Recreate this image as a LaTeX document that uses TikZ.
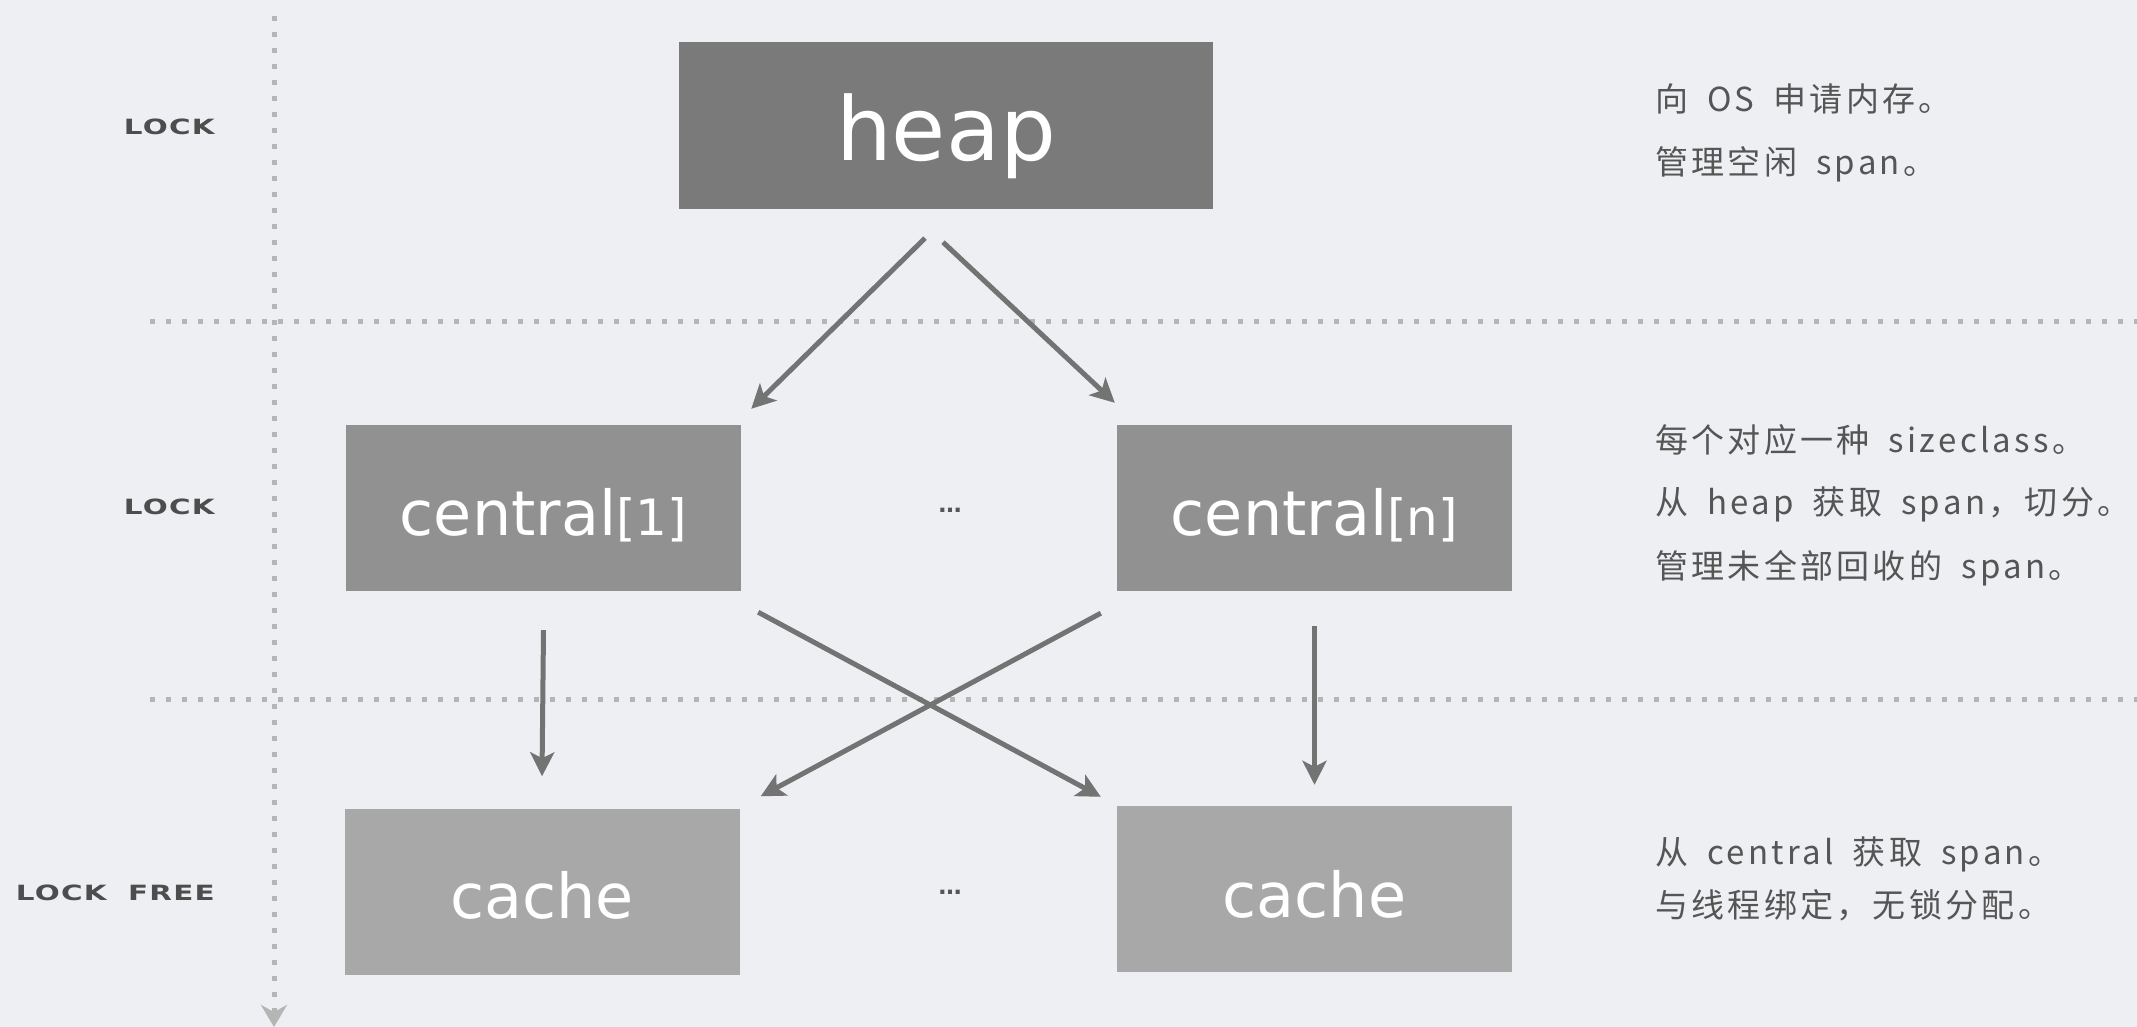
\documentclass[tikz,border=0pt]{standalone}
\usepackage{fontspec}
\usetikzlibrary{arrows.meta,calc}
\newfontfamily\boxfont{DejaVu Sans}
\newfontfamily\cjk[LetterSpace=10]{Noto Sans CJK SC}
\newfontfamily\lockfont[FakeStretch=1.4,LetterSpace=6,UprightFont=* Bold]{DejaVu Sans}
\definecolor{bg}{HTML}{EEEFF2}
\definecolor{heapc}{HTML}{7A7A7A}
\definecolor{centc}{HTML}{919191}
\definecolor{cachec}{HTML}{A8A8A8}
\definecolor{arrc}{HTML}{737373}
\definecolor{dotc}{HTML}{B5B5B5}
\definecolor{lblc}{HTML}{4D4D4D}
\definecolor{txtc}{HTML}{555555}
\newcommand{\mygap}{\hspace{19pt}}
\begin{document}
\begin{tikzpicture}[x=1pt,y=-1pt,
  box/.style={rectangle, inner sep=0pt, text=white, minimum width=395pt, minimum height=166pt},
  bigtext/.style={font={\boxfont\fontsize{88}{90}\selectfont}},
  midtext/.style={font={\boxfont\fontsize{62}{64}\selectfont}},
  arr/.style={line width=5pt, draw=arrc, -{Stealth[length=24pt,width=24pt,inset=6pt]}},
  dotline/.style={draw=dotc, line width=5pt, dash pattern=on 5pt off 11pt},
  lbl/.style={anchor=east, text=lblc, font={\lockfont\fontsize{21}{23}\selectfont}, inner sep=0pt},
  rtxt/.style={anchor=base west, text=txtc, font={\cjk\fontsize{33}{36}\selectfont}, inner sep=0pt},
  dots/.style={text=txtc, font={\boxfont\bfseries\fontsize{23}{25}\selectfont}, inner sep=0pt}
]
\path[fill=bg] (0,0) rectangle (2137,1027);
\useasboundingbox (0,0) rectangle (2137,1027);

% dotted guide lines
\coordinate (h1a) at (150,321);
\coordinate (h1b) at (2137,321);
\coordinate (h2a) at (150,699);
\coordinate (h2b) at (2137,699);
\coordinate (vtop) at (274,16);
\coordinate (vbot) at (274,1027);
\draw[dotline] (h1a) -- (h1b);
\draw[dotline] (h2a) -- (h2b);
\draw[dotline, -{Stealth[length=22pt,width=26pt,inset=7pt]}] (vtop) -- (vbot);

% left labels
\node[lbl] (lk1) at (215,127) {LOCK};
\node[lbl] (lk2) at (215,507) {LOCK};
\node[lbl] (lk3) at (215,893) {LOCK\hspace{10pt} FREE};

% boxes
\node[box, fill=heapc, minimum width=534pt, minimum height=167pt, text height=71pt, text depth=0pt, bigtext] (heap) at (946,125.5) {heap};
\node[box, fill=centc, text height=54pt, text depth=0pt, midtext] (c1) at (543.5,508) {central{\fontsize{50}{52}\selectfont[1]}};
\node[box, fill=centc, text height=54pt, text depth=0pt, midtext] (cn) at (1314.5,508) {central{\fontsize{50}{52}\selectfont[n]}};
\node[box, fill=cachec, text height=53pt, text depth=0pt, midtext] (k1) at (542,891.5) {cache};
\node[box, fill=cachec, text height=56pt, text depth=0pt, midtext] (k2) at (1314.5,889) {cache};

\node[dots] (d1) at (950,510) {…};
\node[dots] (d2) at (950,892) {…};

% connectors
\draw[arr] ($(heap.south)+(-21,29)$) -- ($(c1.north east)+(10,-16)$);
\draw[arr] ($(heap.south)+(-3,33)$) -- ($(cn.north west)+(-2,-22)$);
\draw[arr] ($(c1.south)+(0,39)$) -- ($(k1.north)+(0,-32)$);
\draw[arr] ($(cn.south)+(0,35)$) -- ($(k2.north)+(0,-21)$);
\draw[arr] ($(c1.south east)+(17,21)$) -- ($(k2.north west)+(-16,-9)$);
\draw[arr] ($(cn.south west)+(-16,22)$) -- ($(k1.north east)+(21,-12)$);

% right descriptions
\node[rtxt] (r1) at (1655,112) {向\mygap OS\mygap 申请内存。};
\node[rtxt] (r2) at (1655,175) {管理空闲\mygap span。};
\node[rtxt] (r3) at (1655,452) {每个对应一种\mygap sizeclass。};
\node[rtxt] (r4) at (1655,514) {从\mygap heap\mygap 获取\mygap span，切分。};
\node[rtxt] (r5) at (1655,578) {管理未全部回收的\mygap span。};
\node[rtxt] (r6) at (1655,864) {从\mygap central\mygap 获取\mygap span。};
\node[rtxt] (r7) at (1655,917) {与线程绑定，无锁分配。};
\end{tikzpicture}
\end{document}
